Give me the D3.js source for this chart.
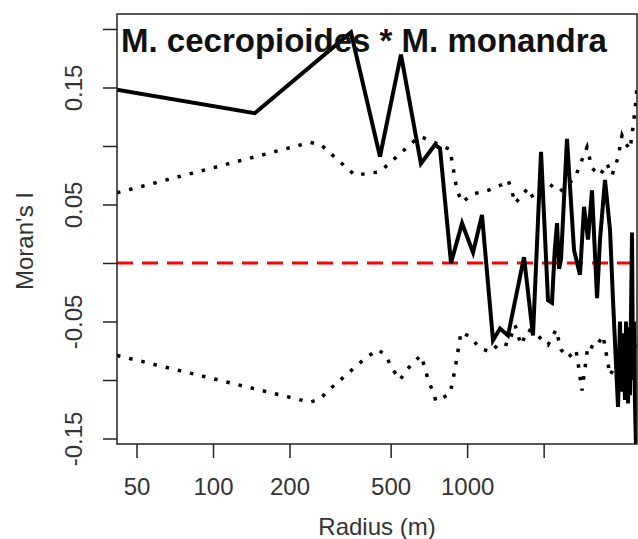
<!DOCTYPE html>
<html lang="en">
<head>
    <meta charset="UTF-8">
    <title>Moran's I correlogram</title>
    <script src="https://d3js.org/d3.v7.min.js"></script>
    <style>
        body { margin: 0; background: #fff; }
        text { font-family: Arial, "Liberation Sans", sans-serif; }
        .tick text { fill: #333; font-size: 24px; }
        .axis path, .axis line { stroke: #222; stroke-width: 1.5; }
    </style>
</head>
<body>
    <svg id="chart" width="638" height="539"></svg>

    <script>
        // observed Moran's I
        let obsR = [41.9, 146, 349, 454, 549, 658, 747, 782, 864, 955, 1055, 1144, 1264, 1347, 1448, 1674,
            1816, 1953, 2081, 2157, 2210, 2258, 2300, 2341, 2471, 2634, 2780, 2884, 2990, 3099, 3245, 3333, 3487,
            3650, 3750, 3924, 3995, 4032, 4104, 4181, 4219, 4297, 4335, 4375, 4454, 4494, 4535, 4575, 4616];
        let obsI = [0.148, 0.128, 0.197, 0.091, 0.178, 0.085, 0.101, 0.098, 0.0, 0.034, 0.009, 0.041, -0.066, -0.056, -0.062, 0.005,
            -0.062, 0.095, -0.032, -0.034, 0.010, 0.034, -0.005, 0.003, 0.106, 0.011, -0.010, 0.048, 0.020, 0.062, -0.030, 0.020, 0.071,
            0.028, -0.032, -0.123, -0.050, -0.110, -0.060, -0.117, -0.050, -0.120, -0.055, -0.113, 0.026, -0.100, -0.050, -0.120, -0.155];

        // upper envelope
        let upR = [41.9, 241, 266, 362, 454, 624, 658, 856, 912, 955, 1055, 1208, 1372, 1448, 1502, 1543, 1614,
            1736, 1816, 2119, 2320, 2658, 2963, 3099, 3333, 3550, 3716, 3924, 4068, 4181, 4375, 4494, 4575, 4659];
        let upI = [0.060, 0.103, 0.101, 0.075, 0.078, 0.105, 0.108, 0.097, 0.062, 0.052, 0.059, 0.062, 0.067, 0.071, 0.061, 0.051, 0.056,
            0.064, 0.056, 0.067, 0.061, 0.073, 0.099, 0.081, 0.075, 0.085, 0.075, 0.090, 0.109, 0.103, 0.097, 0.116, 0.131, 0.150];

        // lower envelope
        let loR = [41.9, 241, 264, 291, 325, 362, 400, 446, 479, 506, 544, 580, 629, 658, 683, 702, 734, 754,
            856, 896, 946, 1026, 1124, 1242, 1347, 1448, 1543, 1629, 1736, 1850, 2025, 2081, 2237, 2341, 2495,
            2682, 2832, 2990, 3185, 3425, 3650, 3924, 4181, 4297, 4454, 4659];
        let loI = [-0.079, -0.119, -0.116, -0.107, -0.098, -0.089, -0.081, -0.074, -0.079, -0.090, -0.100, -0.091, -0.083, -0.079, -0.090, -0.100, -0.110, -0.118,
            -0.112, -0.091, -0.059, -0.063, -0.073, -0.076, -0.068, -0.070, -0.053, -0.070, -0.057, -0.060, -0.068, -0.070, -0.057, -0.074, -0.081,
            -0.074, -0.109, -0.070, -0.073, -0.062, -0.096, -0.083, -0.100, -0.113, -0.083, -0.066];

        let xTicks = [50, 100, 200, 500, 1000, 2000];
        let xTickLabels = ["50", "100", "200", "500", "1000", ""];
        let yTicks = [-0.15, -0.10, -0.05, 0, 0.05, 0.10, 0.15, 0.20];
        let yTickLabels = ["-0.15", "", "-0.05", "", "0.05", "", "0.15", ""];

        let titleText = "M. cecropioides * M. monandra";

        let svg = d3.select("#chart");
        let pLeft = 117, pRight = 637, pTop = 14, pBottom = 444;

        let x = d3.scaleLog().domain([41.9, 4660]).range([pLeft, pRight]);
        let y = d3.scaleLinear().domain([-0.1547, 0.2128]).range([pBottom, pTop]);

        svg.append("clipPath").attr("id", "plotClip")
            .append("rect")
            .attr("x", pLeft).attr("y", pTop)
            .attr("width", pRight - pLeft).attr("height", pBottom - pTop);

        let plot = svg.append("g").attr("clip-path", "url(#plotClip)");

        let line = d3.line()
            .x(function (d) { return x(d[0]); })
            .y(function (d) { return y(d[1]); });

        // reference line at zero
        plot.append("line")
            .attr("x1", pLeft).attr("x2", pRight)
            .attr("y1", y(0)).attr("y2", y(0))
            .attr("stroke", "#ff0000")
            .attr("stroke-width", 3)
            .attr("stroke-dasharray", "16,9");

        // envelopes
        plot.append("path")
            .datum(d3.zip(upR, upI))
            .attr("d", line)
            .attr("fill", "none")
            .attr("stroke", "#000")
            .attr("stroke-width", 3.5)
            .attr("stroke-dasharray", "3.5,9");

        plot.append("path")
            .datum(d3.zip(loR, loI))
            .attr("d", line)
            .attr("fill", "none")
            .attr("stroke", "#000")
            .attr("stroke-width", 3.5)
            .attr("stroke-dasharray", "3.5,9");

        // observed
        plot.append("path")
            .datum(d3.zip(obsR, obsI))
            .attr("d", line)
            .attr("fill", "none")
            .attr("stroke", "#000")
            .attr("stroke-width", 4);

        // box
        svg.append("rect")
            .attr("x", pLeft).attr("y", pTop)
            .attr("width", pRight - pLeft).attr("height", pBottom - pTop)
            .attr("fill", "none")
            .attr("stroke", "#222")
            .attr("stroke-width", 1.5);

        // x axis
        let xAxis = svg.append("g")
            .attr("class", "axis")
            .attr("transform", "translate(0," + pBottom + ")")
            .call(d3.axisBottom(x)
                .tickValues(xTicks)
                .tickSize(14)
                .tickPadding(20)
                .tickFormat(function (d, i) { return xTickLabels[i]; }));
        xAxis.select(".domain").remove();

        // y axis
        let yAxis = svg.append("g")
            .attr("class", "axis")
            .attr("transform", "translate(" + pLeft + ",0)")
            .call(d3.axisLeft(y)
                .tickValues(yTicks)
                .tickSize(14)
                .tickFormat(function (d, i) { return yTickLabels[i]; }));
        yAxis.select(".domain").remove();
        yAxis.selectAll(".tick text")
            .attr("x", null).attr("dy", null)
            .attr("text-anchor", "middle")
            .attr("transform", "translate(-35,0) rotate(-90)");

        // labels
        svg.append("text")
            .attr("x", (pLeft + pRight) / 2)
            .attr("y", 535)
            .attr("text-anchor", "middle")
            .attr("font-size", 24)
            .attr("fill", "#333")
            .text("Radius (m)");

        svg.append("text")
            .attr("transform", "translate(33,241) rotate(-90)")
            .attr("text-anchor", "middle")
            .attr("font-size", 24)
            .attr("fill", "#333")
            .text("Moran's I");

        svg.append("text")
            .attr("x", 121)
            .attr("y", 52)
            .attr("font-size", 33)
            .attr("font-weight", "bold")
            .attr("fill", "#111")
            .text(titleText);
    </script>
</body>
</html>
